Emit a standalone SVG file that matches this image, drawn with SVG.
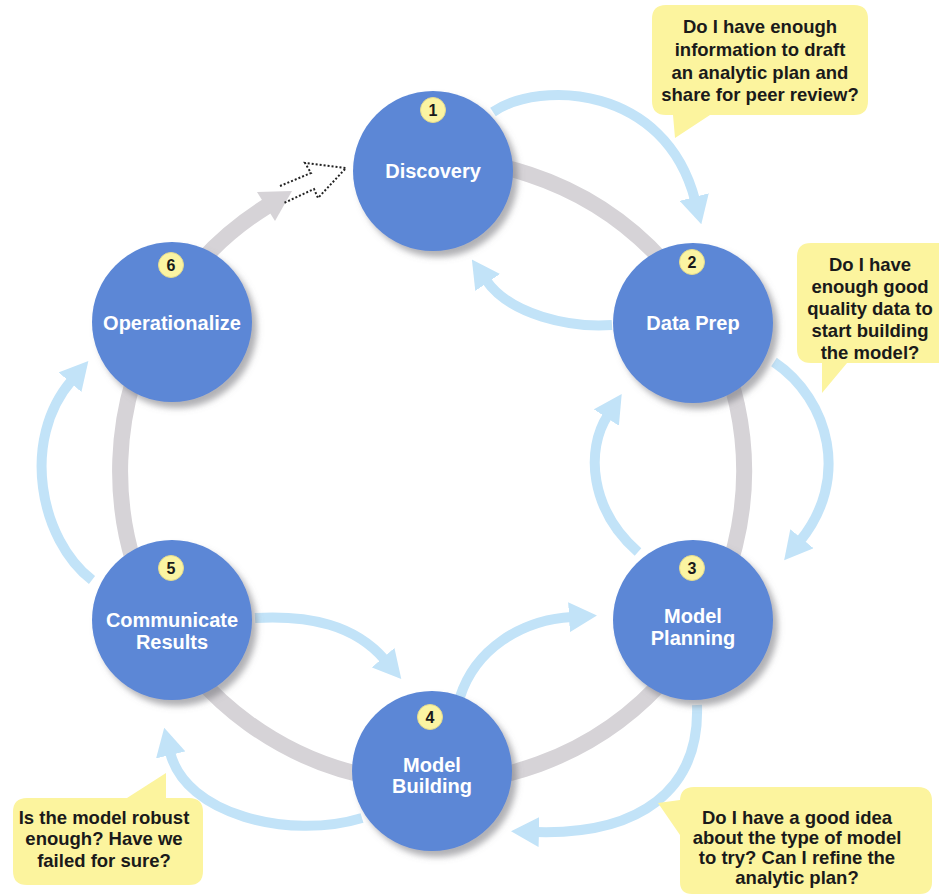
<svg xmlns="http://www.w3.org/2000/svg" width="939" height="896" viewBox="0 0 939 896">
<defs>
<style>
.node{fill:#5b87d6}
.lbl{font-family:"Liberation Sans",Arial,sans-serif;font-weight:bold;font-size:20px;fill:#ffffff;text-anchor:middle}
.badge{fill:#fbf4a2;stroke:#e6dc8c;stroke-width:1}
.num{font-family:"Liberation Sans",Arial,sans-serif;font-weight:bold;font-size:16px;fill:#1a1a1a;text-anchor:middle}
.fb{fill:none;stroke:#c2e3f8;stroke-width:10;marker-end:url(#ah)}
.ring{fill:none;stroke:#d6d3d7;stroke-width:16}
.call{fill:#fcf49e}
.ct{font-family:"Liberation Sans",Arial,sans-serif;font-weight:bold;font-size:18.5px;fill:#1a1a1a;text-anchor:middle}
</style>
<marker id="ah" markerUnits="userSpaceOnUse" markerWidth="28" markerHeight="30" viewBox="0 0 28 30" refX="3" refY="15" orient="auto">
<path d="M0,0 L28,15 L0,30 z" fill="#c2e3f8"/>
</marker>
<filter id="sh" x="-20%" y="-20%" width="150%" height="150%">
<feDropShadow dx="5" dy="6" stdDeviation="3" flood-color="#6f6f78" flood-opacity="0.55"/>
</filter>
</defs>
<rect width="939" height="896" fill="#ffffff"/>

<g id="cycle-ring">
<path class="ring" d="M388.6,162 A312,312 0 1 1 266.7,206.4"/>
<polygon points="292,191 257,192 275,221" fill="#d6d3d7"/>
<polyline points="280,186 311,173 305,163 346,168 318,198 314,189 284,203" fill="none" stroke="#222" stroke-width="2" stroke-dasharray="2 2"/>
</g>

<g id="connectors">
<path class="fb" d="M493,112 C540,80 665,85 695,200"/>
<path class="fb" d="M612,325 C570,328 510,315 486,280"/>
<path class="fb" d="M774,362 C830,400 850,480 800,541"/>
<path class="fb" d="M638,552 C590,510 585,450 608,415"/>
<path class="fb" d="M697,705 C700,790 640,835 536,832"/>
<path class="fb" d="M460,697 C475,650 520,620 572,617"/>
<path class="fb" d="M255,618 C310,615 355,625 385,660"/>
<path class="fb" d="M362,818 C290,840 185,815 170,752"/>
<path class="fb" d="M92,580 C40,540 20,440 72,380"/>
</g>

<g id="node-discovery">
<circle class="node" cx="433" cy="171" r="80" filter="url(#sh)"/>
<circle class="badge" cx="433" cy="110" r="12.5"/>
<text class="num" x="433" y="115.8">1</text>
<text class="lbl" x="433" y="178">Discovery</text>
</g>
<g id="node-data-prep">
<circle class="node" cx="693" cy="323" r="80" filter="url(#sh)"/>
<circle class="badge" cx="692" cy="262" r="12.5"/>
<text class="num" x="692" y="267.8">2</text>
<text class="lbl" x="693" y="330">Data Prep</text>
</g>
<g id="node-model-planning">
<circle class="node" cx="693" cy="620" r="80" filter="url(#sh)"/>
<circle class="badge" cx="692" cy="568" r="12.5"/>
<text class="num" x="692" y="573.8">3</text>
<text class="lbl" x="693" y="623">Model</text>
<text class="lbl" x="693" y="645">Planning</text>
</g>
<g id="node-model-building">
<circle class="node" cx="432" cy="771" r="80" filter="url(#sh)"/>
<circle class="badge" cx="430" cy="717" r="12.5"/>
<text class="num" x="430" y="722.8">4</text>
<text class="lbl" x="432" y="772">Model</text>
<text class="lbl" x="432" y="793">Building</text>
</g>
<g id="node-communicate-results">
<circle class="node" cx="172" cy="620" r="80" filter="url(#sh)"/>
<circle class="badge" cx="171" cy="568" r="12.5"/>
<text class="num" x="171" y="573.8">5</text>
<text class="lbl" x="172" y="627">Communicate</text>
<text class="lbl" x="172" y="649">Results</text>
</g>
<g id="node-operationalize">
<circle class="node" cx="172" cy="322" r="80" filter="url(#sh)"/>
<circle class="badge" cx="171" cy="265" r="12.5"/>
<text class="num" x="171" y="270.8">6</text>
<text class="lbl" x="172" y="330">Operationalize</text>
</g>

<g id="callout-discovery">
<path class="call" d="M666,5 H854 Q868,5 868,19 V101 Q868,115 854,115 H710 L675,138 L673,115 H666 Q652,115 652,101 V19 Q652,5 666,5 Z"/>
<text class="ct" x="760" y="33">Do I have enough</text>
<text class="ct" x="760" y="56">information to draft</text>
<text class="ct" x="760" y="79">an analytic plan and</text>
<text class="ct" x="760" y="101">share for peer review?</text>
</g>
<g id="callout-data-prep">
<path class="call" d="M811,243 H945 V363 H847 L822,393 L822,363 H811 Q797,363 797,349 V257 Q797,243 811,243 Z"/>
<text class="ct" x="870" y="271">Do I have</text>
<text class="ct" x="870" y="293">enough good</text>
<text class="ct" x="870" y="315">quality data to</text>
<text class="ct" x="870" y="337">start building</text>
<text class="ct" x="870" y="359">the model?</text>
</g>
<g id="callout-model-building">
<path class="call" d="M27,798 H127 L166,773 V798 H189 Q203,798 203,812 V871 Q203,885 189,885 H27 Q13,885 13,871 V812 Q13,798 27,798 Z"/>
<text class="ct" x="104" y="824">Is the model robust</text>
<text class="ct" x="104" y="845">enough? Have we</text>
<text class="ct" x="104" y="867">failed for sure?</text>
</g>
<g id="callout-model-planning">
<path class="call" d="M694,787 H918 Q932,787 932,801 V882 Q932,894 920,894 H692 Q680,894 680,882 V835 L658,803 L680,800 V801 Q680,787 694,787 Z"/>
<text class="ct" x="797" y="824">Do I have a good idea</text>
<text class="ct" x="797" y="844">about the type of model</text>
<text class="ct" x="797" y="864">to try? Can I refine the</text>
<text class="ct" x="797" y="884">analytic plan?</text>
</g>
</svg>
